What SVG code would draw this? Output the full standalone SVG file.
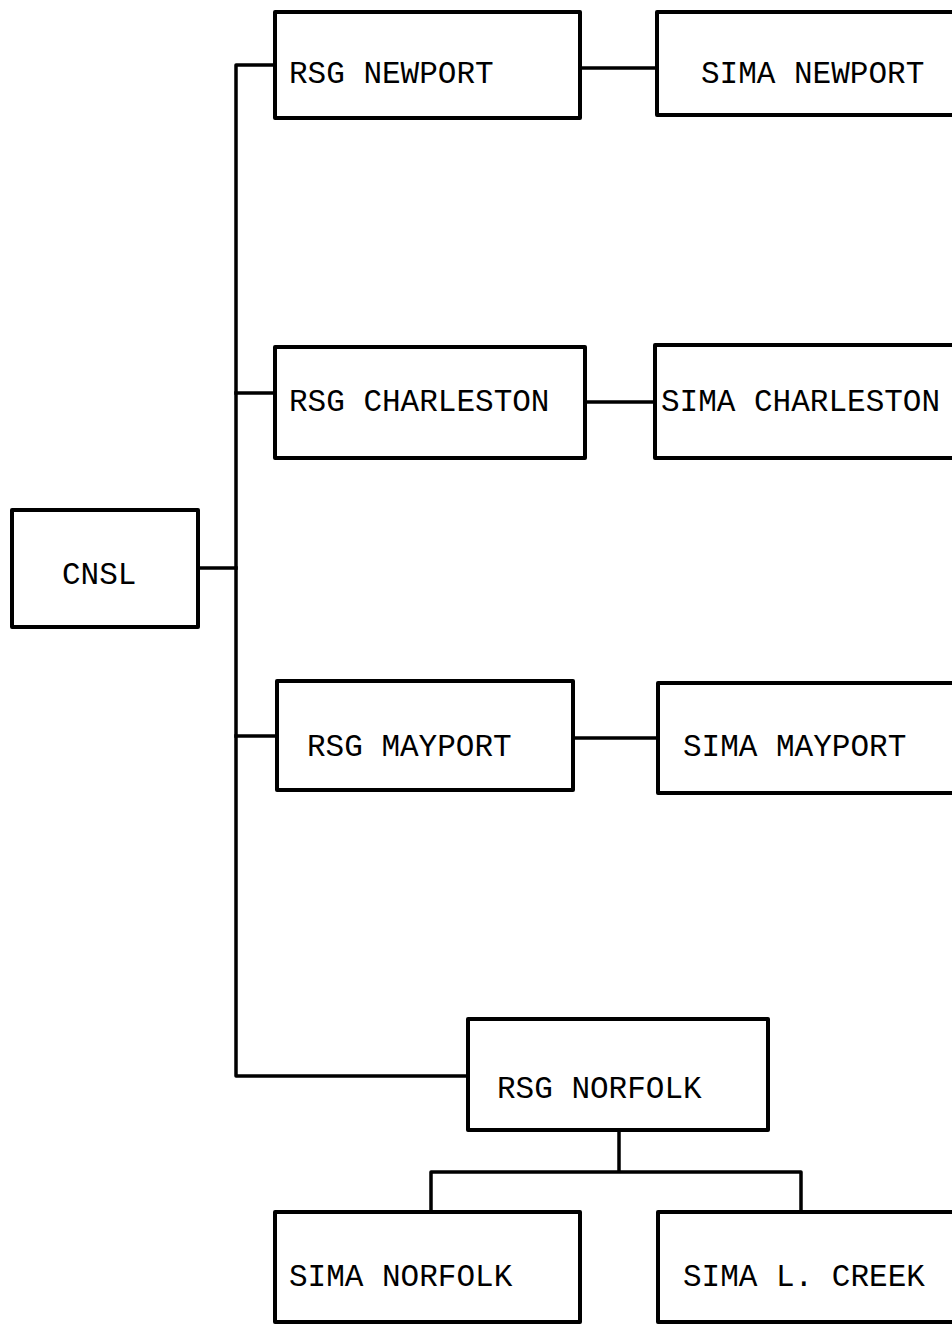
<svg xmlns="http://www.w3.org/2000/svg" width="952" height="1327" viewBox="0 0 952 1327">
<style>
.box{fill:#fff;stroke:#000;stroke-width:4;stroke-linejoin:round}
.lbl{font-family:"Liberation Mono","DejaVu Sans Mono",monospace;font-size:31px;fill:#000}
.con{fill:none;stroke:#000;stroke-width:3.5;stroke-linejoin:round;stroke-linecap:square}
</style>
<rect width="952" height="1327" fill="#fff"/>
<g id="connectors">
<path class="con" d="M275,65 H236 V1076 H468"/>
<path class="con" d="M198,568 H236"/>
<path class="con" d="M236,393 H275"/>
<path class="con" d="M236,736 H277"/>
<path class="con" d="M580,68 H657"/>
<path class="con" d="M585,402 H655"/>
<path class="con" d="M573,738 H658"/>
<path class="con" d="M619,1130 V1170"/>
<path class="con" d="M431,1212 V1172 H801 V1212"/>
</g>
<g id="cnsl"><rect class="box" x="12" y="510" width="186" height="117"/><text class="lbl" x="62" y="584">CNSL</text></g>
<g id="rsg-newport"><rect class="box" x="275" y="12" width="305" height="106"/><text class="lbl" x="289" y="83">RSG NEWPORT</text></g>
<g id="sima-newport"><rect class="box" x="657" y="12" width="310" height="103"/><text class="lbl" x="701" y="83">SIMA NEWPORT</text></g>
<g id="rsg-charleston"><rect class="box" x="275" y="347" width="310" height="111"/><text class="lbl" x="289" y="411">RSG CHARLESTON</text></g>
<g id="sima-charleston"><rect class="box" x="655" y="345" width="310" height="113"/><text class="lbl" x="661" y="411">SIMA CHARLESTON</text></g>
<g id="rsg-mayport"><rect class="box" x="277" y="681" width="296" height="109"/><text class="lbl" x="307" y="756">RSG MAYPORT</text></g>
<g id="sima-mayport"><rect class="box" x="658" y="683" width="310" height="110"/><text class="lbl" x="683" y="756">SIMA MAYPORT</text></g>
<g id="rsg-norfolk"><rect class="box" x="468" y="1019" width="300" height="111"/><text class="lbl" x="497" y="1098">RSG NORFOLK</text></g>
<g id="sima-norfolk"><rect class="box" x="275" y="1212" width="305" height="110"/><text class="lbl" x="289" y="1286">SIMA NORFOLK</text></g>
<g id="sima-l-creek"><rect class="box" x="658" y="1212" width="310" height="110"/><text class="lbl" x="683" y="1286">SIMA L. CREEK</text></g>
</svg>
